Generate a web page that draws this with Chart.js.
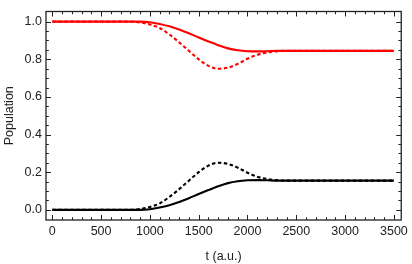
<!DOCTYPE html>
<html>
<head>
<meta charset="utf-8">
<script src="https://cdn.jsdelivr.net/npm/chart.js@4"></script>
<style>
  html, body { margin: 0; padding: 0; background: #fff; }
  #wrap { width: 412px; height: 264px; }
</style>
</head>
<body>
<div id="wrap"><canvas id="chart" width="412" height="264"></canvas></div>
<script>
// time axis (a.u.)
const t = [0, 100, 200, 300, 400, 500, 600, 700, 800, 900,
  1000, 1100, 1200, 1300, 1400, 1500, 1600, 1700, 1800, 1900,
  2000, 2100, 2200, 2300, 2400, 2500, 2600, 2700, 2800, 2900,
  3000, 3100, 3200, 3300, 3400, 3500];

const redSolid = [1, 1, 1, 1, 1, 1, 1, 1, 1, 1,
  0.997, 0.988, 0.975, 0.958, 0.938, 0.916, 0.895, 0.875, 0.858, 0.848,
  0.843, 0.842, 0.843, 0.845, 0.845, 0.845, 0.845, 0.845, 0.845, 0.845,
  0.845, 0.845, 0.845, 0.845, 0.845, 0.845];

const redDashed = [1, 1, 1, 1, 1, 1, 1, 1, 1, 0.996,
  0.985, 0.966, 0.932, 0.89, 0.845, 0.80, 0.765, 0.75, 0.756, 0.776,
  0.803, 0.824, 0.836, 0.842, 0.845, 0.845, 0.845, 0.845, 0.845, 0.845,
  0.845, 0.845, 0.845, 0.845, 0.845, 0.845];

const blackSolid = [0, 0, 0, 0, 0, 0, 0, 0, 0, 0,
  0.003, 0.012, 0.025, 0.042, 0.062, 0.084, 0.105, 0.125, 0.142, 0.152,
  0.157, 0.158, 0.157, 0.155, 0.155, 0.155, 0.155, 0.155, 0.155, 0.155,
  0.155, 0.155, 0.155, 0.155, 0.155, 0.155];

const blackDashed = [0, 0, 0, 0, 0, 0, 0, 0, 0, 0.004,
  0.015, 0.034, 0.068, 0.11, 0.155, 0.20, 0.235, 0.25, 0.244, 0.224,
  0.197, 0.176, 0.164, 0.158, 0.155, 0.155, 0.155, 0.155, 0.155, 0.155,
  0.155, 0.155, 0.155, 0.155, 0.155, 0.155];

const xMajor = [0, 500, 1000, 1500, 2000, 2500, 3000, 3500];
const yMajor = [0, 0.2, 0.4, 0.6, 0.8, 1.0];

const FONT = "'Liberation Sans', Arial, sans-serif";
const FSIZE = 12.5;
const INK = '#222';

function series(values, color, dashed) {
  return {
    data: t.map((x, i) => ({ x: x, y: values[i] })),
    borderColor: color,
    borderWidth: 2.1,
    borderDash: dashed ? [3.5, 2.5] : [],
    pointRadius: 0,
    cubicInterpolationMode: 'monotone',
    fill: false
  };
}

/* ── Mathematica-style frame with inward ticks on all sides ── */
const framePlugin = {
  id: 'frame',
  afterDraw(chart) {
    const { ctx, chartArea: a, scales } = chart;
    const xs = scales.x, ys = scales.y;
    ctx.save();
    ctx.strokeStyle = INK;
    ctx.lineWidth = 1.3;
    ctx.strokeRect(a.left, a.top, a.right - a.left, a.bottom - a.top);
    ctx.lineWidth = 1;
    ctx.beginPath();
    for (let v = 0; v <= 3500; v += 100) {
      const px = Math.round(xs.getPixelForValue(v)) + 0.5;
      const len = v % 500 === 0 ? 5 : 2.8;
      ctx.moveTo(px, a.bottom); ctx.lineTo(px, a.bottom - len);
      ctx.moveTo(px, a.top); ctx.lineTo(px, a.top + len);
    }
    for (let k = 0; k <= 20; k++) {
      const v = k * 0.05;
      const py = Math.round(ys.getPixelForValue(v)) + 0.5;
      const len = k % 4 === 0 ? 5 : 2.8;
      ctx.moveTo(a.left, py); ctx.lineTo(a.left + len, py);
      ctx.moveTo(a.right, py); ctx.lineTo(a.right - len, py);
    }
    ctx.stroke();
    ctx.restore();
  }
};

new Chart(document.getElementById('chart'), {
  type: 'line',
  data: {
    datasets: [
      series(redSolid, '#ff0000', false),
      series(redDashed, '#ff0000', true),
      series(blackSolid, '#000000', false),
      series(blackDashed, '#000000', true)
    ]
  },
  options: {
    responsive: false,
    animation: false,
    layout: { padding: { top: 1, right: 9, left: 0, bottom: 0 } },
    plugins: { legend: { display: false }, tooltip: { enabled: false } },
    scales: {
      x: {
        type: 'linear',
        min: -64,
        max: 3575,
        grid: { display: false, drawTicks: false },
        border: { display: false },
        afterBuildTicks: (s) => { s.ticks = xMajor.map(v => ({ value: v })); },
        afterFit: (s) => { s.height = 44; },
        ticks: {
          autoSkip: false, maxRotation: 0, padding: 4,
          color: INK, font: { family: FONT, size: FSIZE },
          callback: (v) => String(v)
        },
        title: {
          display: true, text: 't (a.u.)', color: INK,
          font: { family: FONT, size: FSIZE }, padding: { top: 4, bottom: 0 }
        }
      },
      y: {
        type: 'linear',
        min: -0.054,
        max: 1.054,
        grid: { display: false, drawTicks: false },
        border: { display: false },
        afterBuildTicks: (s) => { s.ticks = yMajor.map(v => ({ value: v })); },
        afterFit: (s) => { s.width = 46; },
        ticks: {
          autoSkip: false, padding: 4,
          color: INK, font: { family: FONT, size: FSIZE },
          callback: (v) => Number(v).toFixed(1)
        },
        title: {
          display: true, text: 'Population', color: INK,
          font: { family: FONT, size: FSIZE }, padding: { top: 2, bottom: 2 }
        }
      }
    }
  },
  plugins: [framePlugin]
});
</script>
</body>
</html>
